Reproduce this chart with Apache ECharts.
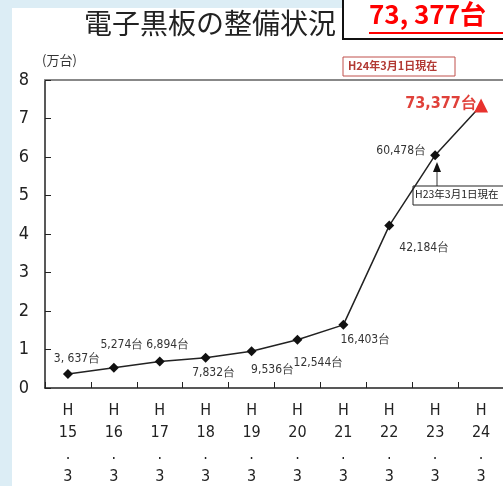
<!DOCTYPE html>
<html>
<head>
<meta charset="utf-8">
<script src="https://cdn.jsdelivr.net/npm/echarts@6/dist/echarts.min.js"></script>
<style>
  html, body { margin: 0; padding: 0; background: #dcedf5; }
  #main { width: 503px; height: 486px; }
</style>
</head>
<body>
<div id="main"></div>
<script>
// data (units: 台)
var years = ['H\n15\n.\n3', 'H\n16\n.\n3', 'H\n17\n.\n3', 'H\n18\n.\n3', 'H\n19\n.\n3',
             'H\n20\n.\n3', 'H\n21\n.\n3', 'H\n22\n.\n3', 'H\n23\n.\n3', 'H\n24\n.\n3'];
var units = [3637, 5274, 6894, 7832, 9536, 12544, 16403, 42184, 60478, 73377];
var pointLabels = ['3, 637台', '5,274台', '6,894台', '7,832台', '9,536台',
                   '12,544台', '16,403台', '42,184台', '60,478台', '73,377台'];
var yTicks = [0, 1, 2, 3, 4, 5, 6, 7, 8];

// label offsets from each point (layout only)
var labelOffsets = [[9, -15], [8, -23], [8, -17], [8, 15], [21, 19],
                    [21, 23], [22, 15], [35, 22], [-34, -4], [-40, -2]];

var dom = document.getElementById('main');
var myChart = echarts.init(dom, null, { renderer: 'canvas' });

var narrow = '"Liberation Sans Narrow", "DejaVu Sans Condensed", sans-serif';
var jp = '"Noto Sans CJK JP", sans-serif';

var seriesData = units.map(function (v, i) {
  var last = i === units.length - 1;
  var item = {
    value: v / 10000,
    label: {
      show: true,
      position: 'inside',
      offset: labelOffsets[i],
      formatter: pointLabels[i]
    }
  };
  if (last) {
    item.symbol = 'triangle';
    item.symbolSize = 14;
    item.itemStyle = { color: '#e8322e' };
    item.label.color = '#e0413a';
    item.label.fontSize = 16;
    item.label.fontWeight = 'bold';
  }
  return item;
});

var option = {
  backgroundColor: '#dcedf5',
  animation: false,
  graphic: [
    { type: 'rect', z: -10, shape: { x: 12, y: 8, width: 500, height: 490 }, style: { fill: '#ffffff' } },
    { type: 'text', left: 84, top: 9,
      style: { text: '電子黒板の整備状況', font: '28px ' + jp, fill: '#222' } },
    { type: 'rect', shape: { x: 343, y: -3, width: 170, height: 42 },
      style: { fill: '#ffffff', stroke: '#111', lineWidth: 2 } },
    { type: 'text', left: 369, top: 1,
      style: { text: '73, 377台', font: 'bold 26px ' + jp, fill: '#ff0000' } },
    { type: 'line', shape: { x1: 369, y1: 33, x2: 503, y2: 33 }, style: { stroke: '#ff0000', lineWidth: 2 } },
    { type: 'text', left: 42, top: 54,
      style: { text: '(万台)', font: '13px ' + jp, fill: '#333' } },
    { type: 'rect', shape: { x: 343, y: 57, width: 112, height: 19 },
      style: { fill: '#ffffff', stroke: '#c0504d', lineWidth: 1 } },
    { type: 'text', left: 348, top: 60,
      style: { text: 'H24年3月1日現在', font: 'bold 11px ' + jp, fill: '#b23a34' } },
    { type: 'line', shape: { x1: 437, y1: 186, x2: 437, y2: 170 }, style: { stroke: '#333', lineWidth: 1 } },
    { type: 'polygon', shape: { points: [[437, 162], [433, 172], [441, 172]] }, style: { fill: '#111' } },
    { type: 'rect', shape: { x: 413, y: 186, width: 92, height: 19 },
      style: { fill: '#ffffff', stroke: '#222', lineWidth: 1 } },
    { type: 'text', left: 415, top: 189,
      style: { text: 'H23年3月1日現在', font: '10.5px ' + jp, fill: '#222' } }
  ],
  grid: { left: 45, right: -1, top: 80, bottom: 98, outerBoundsMode: 'none' },
  xAxis: [
    {
      type: 'category',
      data: years,
      boundaryGap: true,
      axisLine: { lineStyle: { color: '#222', width: 1.5 } },
      axisTick: { show: true, inside: true, length: 6, lineStyle: { color: '#222' } },
      axisLabel: { margin: 12, fontSize: 16, lineHeight: 22, color: '#222', fontFamily: narrow }
    },
    {
      type: 'category',
      position: 'top',
      data: years,
      axisLine: { lineStyle: { color: '#888', width: 2 } },
      axisTick: { show: false },
      axisLabel: { show: false }
    }
  ],
  yAxis: {
    type: 'value',
    min: yTicks[0],
    max: yTicks[yTicks.length - 1],
    interval: 1,
    axisLine: { show: true, lineStyle: { color: '#222', width: 1.5 } },
    axisTick: { show: true, inside: true, length: 6, lineStyle: { color: '#222' } },
    splitLine: { show: false },
    axisLabel: { margin: 16, fontSize: 18, color: '#222', fontFamily: narrow }
  },
  series: [
    {
      type: 'line',
      data: seriesData,
      symbol: 'diamond',
      symbolSize: 10,
      itemStyle: { color: '#111' },
      lineStyle: { color: '#222', width: 1.5 },
      label: { fontSize: 12, color: '#333', fontFamily: narrow }
    }
  ]
};

myChart.setOption(option);
window.addEventListener('resize', myChart.resize);
</script>
</body>
</html>
